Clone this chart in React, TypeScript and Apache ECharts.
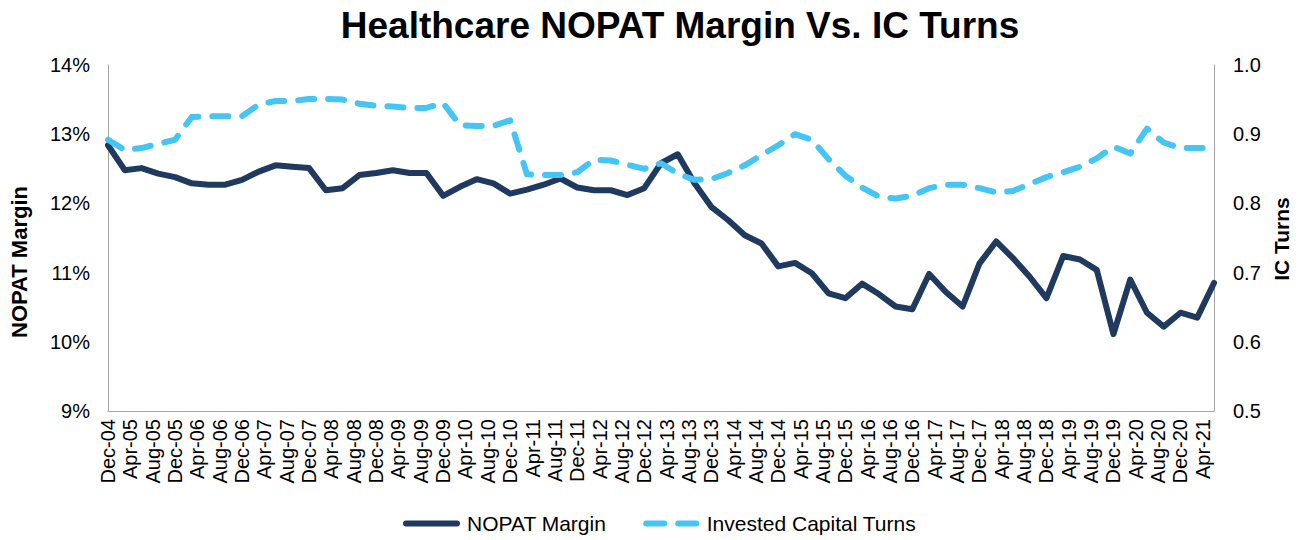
import React, { useEffect, useRef } from "react";
import * as echarts from "echarts";

const quarterDates = [
  "Dec-04",
  "Mar-05", "Jun-05", "Sep-05", "Dec-05",
  "Mar-06", "Jun-06", "Sep-06", "Dec-06",
  "Mar-07", "Jun-07", "Sep-07", "Dec-07",
  "Mar-08", "Jun-08", "Sep-08", "Dec-08",
  "Mar-09", "Jun-09", "Sep-09", "Dec-09",
  "Mar-10", "Jun-10", "Sep-10", "Dec-10",
  "Mar-11", "Jun-11", "Sep-11", "Dec-11",
  "Mar-12", "Jun-12", "Sep-12", "Dec-12",
  "Mar-13", "Jun-13", "Sep-13", "Dec-13",
  "Mar-14", "Jun-14", "Sep-14", "Dec-14",
  "Mar-15", "Jun-15", "Sep-15", "Dec-15",
  "Mar-16", "Jun-16", "Sep-16", "Dec-16",
  "Mar-17", "Jun-17", "Sep-17", "Dec-17",
  "Mar-18", "Jun-18", "Sep-18", "Dec-18",
  "Mar-19", "Jun-19", "Sep-19", "Dec-19",
  "Mar-20", "Jun-20", "Sep-20", "Dec-20",
  "Mar-21", "Jun-21",
];

const nopatMargin = [
  12.84, 12.48, 12.51, 12.43, 12.38, 12.29, 12.27, 12.27, 12.34, 12.46, 12.55, 12.53, 12.51, 12.19, 12.22, 12.41, 12.44,
  12.48, 12.44, 12.44, 12.11, 12.24, 12.35, 12.29, 12.14, 12.2, 12.27, 12.36, 12.23, 12.19, 12.19, 12.12, 12.22,
  12.58, 12.71, 12.29, 11.95, 11.76, 11.54, 11.42, 11.09, 11.14, 10.99, 10.7, 10.63, 10.84, 10.69, 10.51, 10.47,
  10.98, 10.72, 10.51, 11.13, 11.45, 11.21, 10.94, 10.63, 11.24, 11.19, 11.04, 10.11, 10.9, 10.42, 10.22, 10.42, 10.35, 10.85,
];

const icTurns = [
  0.892, 0.877, 0.88, 0.886, 0.892, 0.925, 0.926, 0.926, 0.926, 0.943, 0.948, 0.948, 0.951, 0.951, 0.95, 0.944, 0.941,
  0.94, 0.938, 0.938, 0.945, 0.913, 0.912, 0.912, 0.92, 0.842, 0.841, 0.841, 0.845, 0.863, 0.862, 0.856, 0.85,
  0.858, 0.843, 0.834, 0.835, 0.844, 0.855, 0.87, 0.884, 0.9, 0.892, 0.864, 0.84, 0.823, 0.81, 0.807, 0.811,
  0.822, 0.827, 0.827, 0.822, 0.816, 0.818, 0.828, 0.838, 0.845, 0.853, 0.865, 0.882, 0.872, 0.908, 0.888, 0.88, 0.88, 0.88,
];

const tickLabels = [
  "Dec-04", "Apr-05", "Aug-05", "Dec-05", "Apr-06", "Aug-06", "Dec-06", "Apr-07", "Aug-07", "Dec-07",
  "Apr-08", "Aug-08", "Dec-08", "Apr-09", "Aug-09", "Dec-09", "Apr-10", "Aug-10", "Dec-10", "Apr-11",
  "Aug-11", "Dec-11", "Apr-12", "Aug-12", "Dec-12", "Apr-13", "Aug-13", "Dec-13", "Apr-14", "Aug-14",
  "Dec-14", "Apr-15", "Aug-15", "Dec-15", "Apr-16", "Aug-16", "Dec-16", "Apr-17", "Aug-17", "Dec-17",
  "Apr-18", "Aug-18", "Dec-18", "Apr-19", "Aug-19", "Dec-19", "Apr-20", "Aug-20", "Dec-20", "Apr-21",
];

const MONTHS = ["Jan", "Feb", "Mar", "Apr", "May", "Jun", "Jul", "Aug", "Sep", "Oct", "Nov", "Dec"];

// months elapsed since Dec-04
function monthIndex(label: string): number {
  const [mon, yy] = label.split("-");
  const year = 2000 + parseInt(yy, 10);
  return (year - 2004) * 12 + MONTHS.indexOf(mon) - 11;
}

const FONT = "'Liberation Sans', Arial, sans-serif";
const NAVY = "#1f3a5e";
const SKY = "#44c5f3";

const SOLID_ICON = "path://M3,0H54A3,3 0 0 1 54,6H3A3,3 0 0 1 3,0Z";
const DASH_ICON =
  "path://M3,0H21A3,3 0 0 1 21,6H3A3,3 0 0 1 3,0Z M35,0H53A3,3 0 0 1 53,6H35A3,3 0 0 1 35,0Z";

export default function App() {
  const ref = useRef<HTMLDivElement>(null);

  useEffect(() => {
    document.body.style.margin = "0";
    if (!ref.current) return;
    const chart = echarts.init(ref.current, null, { renderer: "svg" });
    const xs = quarterDates.map(monthIndex);
    const maxM = xs[xs.length - 1];

    chart.setOption({
      animation: false,
      backgroundColor: "#ffffff",
      textStyle: { fontFamily: FONT },
      title: {
        text: "Healthcare NOPAT Margin Vs. IC Turns",
        left: 675,
        textAlign: "center",
        top: 2,
        textStyle: { fontFamily: FONT, fontSize: 37, fontWeight: "bold", color: "#000" },
      },
      legend: {
        top: 508,
        left: 398,
        itemWidth: 57,
        itemHeight: 6,
        itemGap: 37,
        textStyle: { fontFamily: FONT, fontSize: 21, color: "#000", padding: [0, 0, 0, 2] },
        data: [
          { name: "NOPAT Margin", icon: SOLID_ICON },
          { name: "Invested Capital Turns", icon: DASH_ICON },
        ],
      },
      graphic: [
        {
          type: "text",
          x: 19,
          y: 262,
          rotation: Math.PI / 2,
          style: {
            text: "NOPAT Margin",
            font: `bold 22px ${FONT}`,
            fill: "#000",
            align: "center",
            verticalAlign: "middle",
          },
        },
        {
          type: "text",
          x: 1281,
          y: 239,
          rotation: Math.PI / 2,
          style: {
            text: "IC Turns",
            font: `bold 21px ${FONT}`,
            fill: "#000",
            align: "center",
            verticalAlign: "middle",
          },
        },
      ],
      grid: { left: 108, right: 86, top: 65, bottom: 129, containLabel: false },
      xAxis: {
        type: "value",
        min: 0,
        max: maxM,
        interval: 4,
        splitLine: { show: false },
        axisTick: { show: false },
        axisLine: { show: true, lineStyle: { color: "#a6a6a6", width: 1 } },
        axisLabel: {
          rotate: 90,
          margin: 8,
          fontSize: 20,
          fontFamily: FONT,
          color: "#000",
          showMaxLabel: false,
          formatter: (v: number) => (v % 4 === 0 ? tickLabels[v / 4] ?? "" : ""),
        },
      },
      yAxis: [
        {
          type: "value",
          min: 9,
          max: 14,
          interval: 1,
          position: "left",
          splitLine: { show: false },
          axisTick: { show: false },
          axisLine: { show: true, lineStyle: { color: "#a6a6a6", width: 1 } },
          axisLabel: {
            fontSize: 20,
            fontFamily: FONT,
            color: "#000",
            margin: 18,
            formatter: (v: number) => `${Math.round(v)}%`,
          },
        },
        {
          type: "value",
          min: 0.5,
          max: 1.0,
          interval: 0.1,
          position: "right",
          splitLine: { show: false },
          axisTick: { show: false },
          axisLine: { show: true, lineStyle: { color: "#a6a6a6", width: 1 } },
          axisLabel: {
            fontSize: 20,
            fontFamily: FONT,
            color: "#000",
            margin: 19,
            formatter: (v: number) => v.toFixed(1),
          },
        },
      ],
      series: [
        {
          name: "NOPAT Margin",
          type: "line",
          yAxisIndex: 0,
          symbol: "none",
          showSymbol: false,
          data: xs.map((x, i) => [x, nopatMargin[i]]),
          itemStyle: { color: NAVY },
          lineStyle: { color: NAVY, width: 6, join: "round", cap: "round" },
        },
        {
          name: "Invested Capital Turns",
          type: "line",
          yAxisIndex: 1,
          symbol: "none",
          showSymbol: false,
          data: xs.map((x, i) => [x, icTurns[i]]),
          itemStyle: { color: SKY },
          lineStyle: { color: SKY, width: 6, type: [16, 14], cap: "round", join: "round" },
        },
      ],
    });

    return () => chart.dispose();
  }, []);

  return <div ref={ref} style={{ width: 1300, height: 540 }} />;
}
